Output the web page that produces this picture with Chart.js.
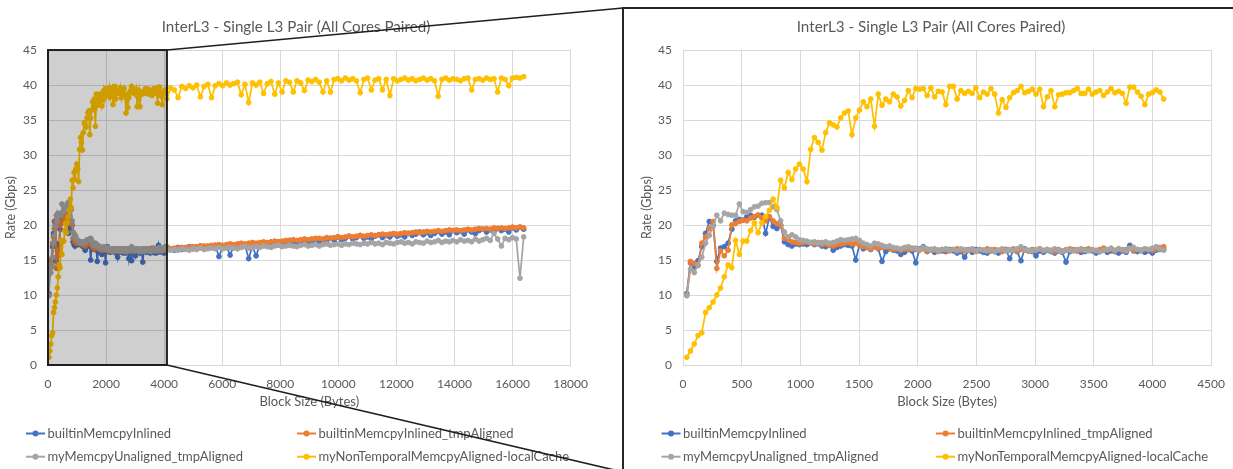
<!DOCTYPE html>
<html>
<head>
<meta charset="utf-8">
<script src="https://cdn.jsdelivr.net/npm/chart.js@4.4.0/dist/chart.umd.min.js"></script>
<style>
  html, body { margin: 0; padding: 0; background: #fff; width: 1233px; height: 469px; overflow: hidden; }
  #wrapL { position: absolute; left: 0; top: 0; width: 600px; height: 469px; }
  #frame { position: absolute; left: 622px; top: 7px; width: 700px; height: 600px; border: 2px solid #262626; box-sizing: border-box; }
  #wrapR { position: absolute; left: 625px; top: 10px; width: 612px; height: 459px; }
  #callout { position: absolute; left: 0; top: 0; pointer-events: none; }
</style>
</head>
<body>
<div id="wrapL"><canvas id="chartL" width="600" height="469"></canvas></div>
<div id="frame"></div>
<div id="wrapR"><canvas id="chartR" width="612" height="459"></canvas></div>
<canvas id="callout" width="1233" height="469"></canvas>
<script>
// ---- data ----
const chartTitle = 'InterL3 - Single L3 Pair (All Cores Paired)';
const xTitle = 'Block Size (Bytes)';
const yTitle = 'Rate (Gbps)';
const seriesNames = ['builtinMemcpyInlined', 'builtinMemcpyInlined_tmpAligned', 'myMemcpyUnaligned_tmpAligned', 'myNonTemporalMemcpyAligned-localCache'];
const seriesColors = ['#4472C4', '#ED7D31', '#A5A5A5', '#FFC000'];

const rateTicks = [0, 5, 10, 15, 20, 25, 30, 35, 40, 45];
const fullXTicks = [0, 2000, 4000, 6000, 8000, 10000, 12000, 14000, 16000, 18000];
const zoomXTicks = [0, 500, 1000, 1500, 2000, 2500, 3000, 3500, 4000, 4500];
const zoomRange = [0, 4096];

// block sizes up to one page (detail view)
const nearBytes = [
  32, 64, 96, 128, 160, 192, 224, 256, 288, 320, 352, 384, 416, 448, 480, 512,
  544, 576, 608, 640, 672, 704, 736, 768, 800, 832, 864, 896, 928, 960, 992, 1024,
  1056, 1088, 1120, 1152, 1184, 1216, 1248, 1280, 1312, 1344, 1376, 1408, 1440, 1472, 1504, 1536,
  1568, 1600, 1632, 1664, 1696, 1728, 1760, 1792, 1824, 1856, 1888, 1920, 1952, 1984, 2016, 2048,
  2080, 2112, 2144, 2176, 2208, 2240, 2272, 2304, 2336, 2368, 2400, 2432, 2464, 2496, 2528, 2560,
  2592, 2624, 2656, 2688, 2720, 2752, 2784, 2816, 2848, 2880, 2912, 2944, 2976, 3008, 3040, 3072,
  3104, 3136, 3168, 3200, 3232, 3264, 3296, 3328, 3360, 3392, 3424, 3456, 3488, 3520, 3552, 3584,
  3616, 3648, 3680, 3712, 3744, 3776, 3808, 3840, 3872, 3904, 3936, 3968, 4000, 4032, 4064, 4096
];
// larger block sizes (full view only)
const farBytes = [
  4224, 4352, 4480, 4608, 4736, 4864, 4992, 5120, 5248, 5376, 5504, 5632, 5760, 5888, 6016, 6144,
  6272, 6400, 6528, 6656, 6784, 6912, 7040, 7168, 7296, 7424, 7552, 7680, 7808, 7936, 8064, 8192,
  8320, 8448, 8576, 8704, 8832, 8960, 9088, 9216, 9344, 9472, 9600, 9728, 9856, 9984, 10112, 10240,
  10368, 10496, 10624, 10752, 10880, 11008, 11136, 11264, 11392, 11520, 11648, 11776, 11904, 12032, 12160, 12288,
  12416, 12544, 12672, 12800, 12928, 13056, 13184, 13312, 13440, 13568, 13696, 13824, 13952, 14080, 14208, 14336,
  14464, 14592, 14720, 14848, 14976, 15104, 15232, 15360, 15488, 15616, 15744, 15872, 16000, 16128, 16256, 16384
];

const builtinNear = [
  10.2, 14.6, 14.0, 14.9, 16.9, 18.8, 20.5, 20.0, 14.8, 16.7, 16.9, 17.4, 19.4, 20.6, 20.8, 20.7,
  21.2, 21.4, 21.1, 21.4, 21.4, 18.8, 21.1, 19.8, 19.5, 20.0, 17.6, 17.2, 17.0, 17.3, 17.2, 17.3,
  17.2, 17.5, 17.2, 17.3, 17.0, 16.9, 17.1, 16.4, 16.8, 17.0, 17.2, 17.1, 17.0, 15.0, 17.2, 16.6,
  16.8, 16.5, 16.9, 16.6, 14.8, 16.2, 16.6, 16.4, 16.3, 15.8, 16.1, 16.5, 16.3, 14.6, 16.6, 16.9,
  16.2, 16.5, 16.1, 16.4, 16.3, 16.2, 16.5, 16.3, 16.0, 16.2, 15.4, 16.4, 16.1, 16.5, 16.3, 16.1,
  16.0, 16.4, 16.2, 16.0, 16.3, 16.5, 15.2, 16.4, 16.2, 14.9, 16.6, 16.3, 16.2, 15.6, 16.3, 16.1,
  16.4, 16.2, 16.0, 16.3, 16.1, 14.7, 16.2, 16.4, 16.3, 16.1, 16.2, 16.5, 16.3, 16.0, 16.2, 16.4,
  16.1, 16.3, 16.2, 16.0, 16.3, 16.1, 17.1, 16.3, 16.2, 16.4, 16.1, 16.3, 16.0, 16.4, 16.5, 16.6
];
const builtinFar = [
  16.6, 16.4, 16.8, 16.5, 16.7, 16.9, 16.6, 16.8, 17.0, 16.7, 16.9, 16.8, 17.1, 15.5, 16.9, 17.1,
  15.7, 17.0, 17.2, 16.9, 17.1, 15.2, 17.0, 15.6, 17.2, 17.4, 17.1, 17.5, 17.3, 17.6, 17.2, 17.5,
  17.8, 17.4, 17.6, 17.3, 17.9, 17.5, 17.7, 18.0, 17.6, 17.8, 17.5, 18.1, 17.8, 18.3, 17.9, 18.1,
  18.4, 18.0, 18.2, 18.5, 18.1, 18.3, 18.0, 18.4, 18.6, 18.2, 18.5, 18.3, 18.7, 18.4, 18.6, 18.3,
  18.8, 18.5, 18.7, 19.0, 18.6, 18.9, 18.5, 18.8, 19.1, 18.7, 19.0, 18.6, 19.2, 18.9, 19.1, 18.7,
  19.3, 19.0, 18.8, 19.2, 19.4, 19.0, 19.3, 19.1, 19.5, 19.2, 19.4, 19.0, 19.6, 19.3, 19.7, 19.4
];

const tmpAlignedNear = [
  10.0, 14.8, 14.5, 14.2, 17.4, 18.3, 19.5, 20.5, 13.8, 16.3, 15.6, 16.4, 20.0, 20.2, 20.5, 20.7,
  20.6, 21.0, 21.2, 21.4, 21.0, 20.6, 21.2, 20.6, 20.2, 20.0, 18.1, 18.0, 17.6, 17.5, 17.4, 17.5,
  17.6, 17.4, 17.3, 17.5, 17.2, 17.3, 17.1, 17.0, 17.2, 17.3, 17.4, 17.5, 17.3, 17.4, 17.2, 16.9,
  16.8, 16.6, 16.9, 16.7, 16.8, 16.9, 16.7, 16.5, 16.6, 16.4, 16.6, 16.5, 16.7, 16.5, 16.4, 16.6,
  16.3, 16.5, 16.4, 16.2, 16.5, 16.4, 16.3, 16.5, 16.6, 16.4, 16.3, 16.5, 16.4, 16.2, 16.5, 16.4,
  16.6, 16.3, 16.5, 16.4, 16.2, 16.5, 16.4, 16.6, 16.3, 16.5, 16.4, 16.3, 16.5, 16.4, 16.6, 16.3,
  16.5, 16.4, 16.2, 16.5, 16.3, 16.4, 16.6, 16.5, 16.3, 16.4, 16.5, 16.6, 16.4, 16.3, 16.5, 16.7,
  16.4, 16.5, 16.3, 16.6, 16.4, 16.5, 16.7, 16.4, 16.5, 16.3, 16.6, 16.5, 16.4, 16.6, 16.8, 16.9
];
const tmpAlignedFar = [
  16.6, 16.7, 16.7, 16.8, 16.8, 16.8, 16.9, 16.9, 17.0, 17.0, 17.0, 17.1, 17.1, 17.2, 17.1, 17.2,
  17.3, 17.2, 17.3, 17.4, 17.3, 17.4, 17.5, 17.4, 17.5, 17.6, 17.5, 17.6, 17.7, 17.6, 17.7, 17.8,
  17.8, 17.9, 17.8, 17.9, 18.0, 17.9, 18.0, 18.1, 18.1, 18.0, 18.2, 18.1, 18.2, 18.3, 18.2, 18.3,
  18.4, 18.3, 18.4, 18.5, 18.4, 18.5, 18.6, 18.5, 18.6, 18.7, 18.6, 18.7, 18.8, 18.7, 18.8, 18.9,
  18.8, 18.9, 19.0, 18.9, 19.0, 19.1, 19.0, 19.1, 19.2, 19.1, 19.2, 19.3, 19.2, 19.3, 19.2, 19.3,
  19.4, 19.3, 19.4, 19.5, 19.4, 19.5, 19.4, 19.6, 19.5, 19.6, 19.5, 19.6, 19.7, 19.6, 19.7, 19.6
];

const unalignedNear = [
  9.9, 13.7, 13.2, 14.3, 15.4, 17.4, 18.5, 19.8, 21.4, 20.6, 21.7, 21.5, 21.4, 21.4, 23.0, 21.9,
  21.8, 22.2, 22.6, 22.7, 23.1, 23.2, 23.2, 22.6, 22.2, 20.6, 19.0, 18.3, 18.6, 18.3, 17.9, 17.8,
  17.7, 17.5, 17.6, 17.4, 17.5, 17.6, 17.4, 17.5, 17.7, 17.9, 17.8, 17.9, 18.0, 18.1, 17.8, 17.4,
  17.2, 17.0, 17.4, 17.3, 17.1, 16.9, 17.0, 16.8, 16.7, 16.6, 16.8, 16.9, 16.6, 16.7, 16.5, 16.8,
  16.6, 16.4, 16.6, 16.3, 16.5, 16.6, 16.4, 16.5, 16.3, 16.6, 16.5, 16.4, 16.6, 16.3, 16.5, 16.4,
  16.3, 16.5, 16.2, 16.4, 16.6, 16.3, 16.5, 16.4, 16.6, 16.9, 16.5, 16.4, 16.3, 16.5, 16.6, 16.4,
  16.5, 16.3, 16.6, 16.4, 16.2, 16.5, 16.4, 16.3, 16.5, 16.6, 16.4, 16.3, 16.5, 16.4, 16.2, 16.4,
  16.5, 16.7, 16.4, 16.6, 16.5, 16.3, 16.6, 16.8, 16.5, 16.4, 16.6, 16.5, 16.7, 16.9, 16.6, 16.4
];
const unalignedFar = [
  16.4, 16.5, 16.4, 16.6, 16.5, 16.4, 16.6, 16.5, 16.7, 16.5, 16.6, 16.7, 16.6, 16.8, 16.6, 16.7,
  16.8, 16.7, 16.6, 16.8, 16.9, 16.7, 16.8, 16.9, 16.8, 17.0, 16.9, 16.8, 17.0, 17.1, 16.9, 17.0,
  17.1, 17.0, 16.9, 17.1, 17.2, 17.0, 17.1, 17.2, 17.0, 17.2, 17.3, 17.1, 17.2, 17.3, 17.1, 17.3,
  17.2, 17.4, 17.3, 17.2, 17.4, 17.3, 17.5, 17.3, 17.4, 17.2, 17.5, 17.4, 17.3, 17.5, 17.6, 17.4,
  17.5, 17.3, 17.6, 17.5, 17.4, 17.7, 17.5, 17.6, 17.8, 17.5, 17.7, 17.6, 17.8, 17.6, 17.9, 17.7,
  17.8, 17.6, 18.0, 17.7, 17.9, 18.1, 17.8, 18.8, 18.0, 17.0, 18.1, 17.9, 18.2, 18.0, 12.4, 18.3
];

const nonTemporalNear = [
  1.1, 2.0, 3.0, 4.2, 4.6, 7.5, 8.2, 9.0, 10.0, 11.0, 12.6, 14.3, 13.9, 17.8, 15.8, 17.7,
  17.7, 19.2, 20.3, 18.9, 20.3, 21.2, 22.1, 23.7, 22.5, 26.4, 25.3, 27.5, 26.5, 28.0, 28.7, 28.0,
  26.2, 30.8, 32.5, 31.8, 30.7, 33.2, 34.6, 34.3, 34.0, 35.3, 36.0, 36.3, 32.9, 35.3, 36.4, 37.6,
  36.9, 38.0, 34.1, 38.7, 37.1, 38.0, 37.6, 38.7, 38.3, 37.0, 37.8, 39.2, 38.2, 39.5, 39.4, 39.5,
  38.5, 39.6, 38.3, 39.1, 39.0, 37.2, 39.8, 39.8, 38.0, 39.2, 38.8, 39.1, 38.8, 39.6, 38.2, 39.0,
  38.7, 39.5, 38.7, 36.0, 37.9, 36.8, 38.2, 38.9, 39.2, 39.8, 38.9, 39.1, 39.4, 38.7, 39.4, 36.9,
  38.3, 39.2, 36.9, 38.6, 38.7, 38.9, 38.9, 39.2, 39.5, 38.8, 38.8, 39.4, 38.7, 39.0, 39.2, 38.5,
  39.0, 39.5, 38.9, 39.1, 38.8, 37.4, 39.7, 39.7, 39.0, 38.4, 37.2, 38.7, 38.9, 39.3, 39.0, 38.0
];
const nonTemporalFar = [
  39.6, 39.3, 38.2, 39.8, 39.5, 39.9, 39.6, 40.0, 38.3, 39.8, 40.1, 38.2, 39.9, 40.2, 39.9, 40.3,
  40.0, 40.2, 40.4, 38.6, 40.1, 37.5, 40.3, 40.0, 40.4, 38.8, 40.2, 40.5, 38.7, 40.3, 39.0, 40.6,
  40.4, 39.0, 40.6, 40.3, 39.2, 40.7, 40.5, 40.8, 40.4, 39.0, 40.6, 39.0, 40.8, 40.9, 40.6, 41.0,
  40.7, 40.9, 40.6, 38.9, 40.8, 41.0, 39.3, 40.7, 40.9, 39.3, 40.8, 38.5, 40.9, 40.6, 40.8, 41.0,
  40.7, 40.9, 40.6, 40.8, 41.0, 40.7, 40.9, 40.6, 38.4, 40.8, 41.0, 40.7, 40.9, 40.8, 40.6, 40.9,
  41.0, 39.3, 40.8, 40.9, 40.7, 41.0, 40.8, 40.9, 39.0, 41.0, 40.8, 39.9, 41.0, 41.1, 41.0, 41.2
];

// ---- helpers ----
const FONT = 'Lato, "Open Sans", sans-serif';
const TEXT_COLOR = '#595959';
const GRID_COLOR = '#d9d9d9';

function toPoints(xs, ys) {
  return xs.map((x, i) => ({ x: x, y: ys[i] }));
}

function buildDatasets(full) {
  const near = [builtinNear, tmpAlignedNear, unalignedNear, nonTemporalNear];
  const far = [builtinFar, tmpAlignedFar, unalignedFar, nonTemporalFar];
  return seriesNames.map((name, i) => {
    const xs = full ? nearBytes.concat(farBytes) : nearBytes;
    const ys = full ? near[i].concat(far[i]) : near[i];
    return {
      label: name,
      data: toPoints(xs, ys),
      borderColor: seriesColors[i],
      backgroundColor: seriesColors[i],
      pointBackgroundColor: seriesColors[i],
      pointBorderColor: seriesColors[i],
      borderWidth: 1.75,
      pointRadius: 2.4,
      pointBorderWidth: 1,
      pointHoverRadius: 2.4,
      tension: 0,
      order: 3 - i
    };
  });
}

// legend laid out as a fixed two-column grid below the plot
const gridLegend = {
  id: 'gridLegend',
  afterDraw(chart, args, opts) {
    const ctx = chart.ctx;
    ctx.save();
    ctx.font = '13px ' + FONT;
    ctx.textBaseline = 'middle';
    ctx.textAlign = 'left';
    chart.data.datasets.forEach((ds, i) => {
      const x = opts.cols[i % 2];
      const y = opts.rows[Math.floor(i / 2)];
      ctx.strokeStyle = ds.borderColor;
      ctx.lineWidth = 2;
      ctx.beginPath();
      ctx.moveTo(x, y);
      ctx.lineTo(x + 19, y);
      ctx.stroke();
      ctx.fillStyle = ds.borderColor;
      ctx.beginPath();
      ctx.arc(x + 9.5, y, 3, 0, Math.PI * 2);
      ctx.fill();
      ctx.fillStyle = TEXT_COLOR;
      ctx.fillText(ds.label, x + 21.5, y);
    });
    ctx.restore();
  }
};

// shaded box marking the range shown in the detail view
const zoomShade = {
  id: 'zoomShade',
  afterDatasetsDraw(chart, args, opts) {
    if (!opts.enabled) return;
    const { ctx, scales: { x, y } } = chart;
    const x0 = x.getPixelForValue(opts.from);
    const x1 = x.getPixelForValue(opts.to);
    const y0 = y.getPixelForValue(y.max);
    const y1 = y.getPixelForValue(y.min);
    ctx.save();
    ctx.fillStyle = 'rgba(0,0,0,0.19)';
    ctx.fillRect(x0, y0, x1 - x0, y1 - y0);
    ctx.strokeStyle = '#1f1f1f';
    ctx.lineWidth = 2;
    ctx.strokeRect(x0, y0, x1 - x0, y1 - y0);
    ctx.restore();
  }
};

function makeOptions(cfg) {
  return {
    responsive: false,
    animation: false,
    events: [],
    layout: { padding: { left: 0, right: cfg.padRight, top: 0, bottom: 59 } },
    plugins: {
      legend: { display: false },
      tooltip: { enabled: false },
      title: {
        display: true,
        text: chartTitle,
        color: TEXT_COLOR,
        font: { family: FONT, size: 15.2, weight: 'normal', lineHeight: 1.2 },
        padding: { top: cfg.titleTop, bottom: cfg.titleBottom }
      },
      gridLegend: { cols: cfg.legendCols, rows: cfg.legendRows },
      zoomShade: { enabled: cfg.shade, from: zoomRange[0], to: zoomRange[1] }
    },
    scales: {
      x: {
        type: 'linear',
        min: cfg.xTicks[0],
        max: cfg.xTicks[cfg.xTicks.length - 1],
        afterBuildTicks: s => { s.ticks = cfg.xTicks.map(v => ({ value: v })); },
        afterFit: s => { s.height = 45; },
        grid: { color: GRID_COLOR, lineWidth: 1, drawTicks: false },
        border: { display: true, color: GRID_COLOR, width: 1 },
        ticks: {
          color: TEXT_COLOR, font: { family: FONT, size: 12 }, padding: 12,
          autoSkip: false, maxRotation: 0, callback: v => String(v)
        },
        title: {
          display: true, text: xTitle, color: TEXT_COLOR,
          font: { family: FONT, size: 13, lineHeight: 1.2 }, padding: { top: 0, bottom: 0 }
        }
      },
      y: {
        type: 'linear',
        min: rateTicks[0],
        max: rateTicks[rateTicks.length - 1],
        afterBuildTicks: s => { s.ticks = rateTicks.map(v => ({ value: v })); },
        afterFit: s => { s.width = cfg.yWidth; },
        grid: { color: GRID_COLOR, lineWidth: 1, drawTicks: false },
        border: { display: false },
        ticks: {
          color: TEXT_COLOR, font: { family: FONT, size: 12 }, padding: 11,
          callback: v => String(v)
        },
        title: {
          display: true, text: yTitle, color: TEXT_COLOR,
          font: { family: FONT, size: 12.5, lineHeight: 1.2 }, padding: { top: cfg.yTitlePad, bottom: 0 }
        }
      }
    }
  };
}

Chart.register(gridLegend, zoomShade);

const chartL = new Chart(document.getElementById('chartL'), {
  type: 'line',
  data: { datasets: buildDatasets(true) },
  options: makeOptions({
    padRight: 8, titleTop: 17.9, titleBottom: 13.9, yWidth: 48, yTitlePad: 3.5,
    xTicks: fullXTicks, shade: true,
    legendCols: [26, 297], legendRows: [433.5, 456.7]
  })
});

const chartR = new Chart(document.getElementById('chartR'), {
  type: 'line',
  data: { datasets: buildDatasets(false) },
  options: makeOptions({
    padRight: 0, titleTop: 7.9, titleBottom: 13.9, yWidth: 58, yTitlePad: 14,
    xTicks: zoomXTicks, shade: false,
    legendCols: [36.5, 311], legendRows: [423.5, 446.7]
  })
});

// callout lines from the shaded box to the detail frame
(function drawCallout() {
  const frameLeft = 623, frameTop = 8, frameBottom = 472;
  const xs = chartL.scales.x, ys = chartL.scales.y;
  const bx = xs.getPixelForValue(zoomRange[1]);
  const byTop = ys.getPixelForValue(ys.max);
  const byBottom = ys.getPixelForValue(ys.min);
  const ctx = document.getElementById('callout').getContext('2d');
  ctx.strokeStyle = '#1f1f1f';
  ctx.lineWidth = 1.6;
  ctx.beginPath();
  ctx.moveTo(bx, byTop);
  ctx.lineTo(frameLeft, frameTop);
  ctx.moveTo(bx, byBottom);
  ctx.lineTo(frameLeft, frameBottom);
  ctx.stroke();
})();
</script>
</body>
</html>
